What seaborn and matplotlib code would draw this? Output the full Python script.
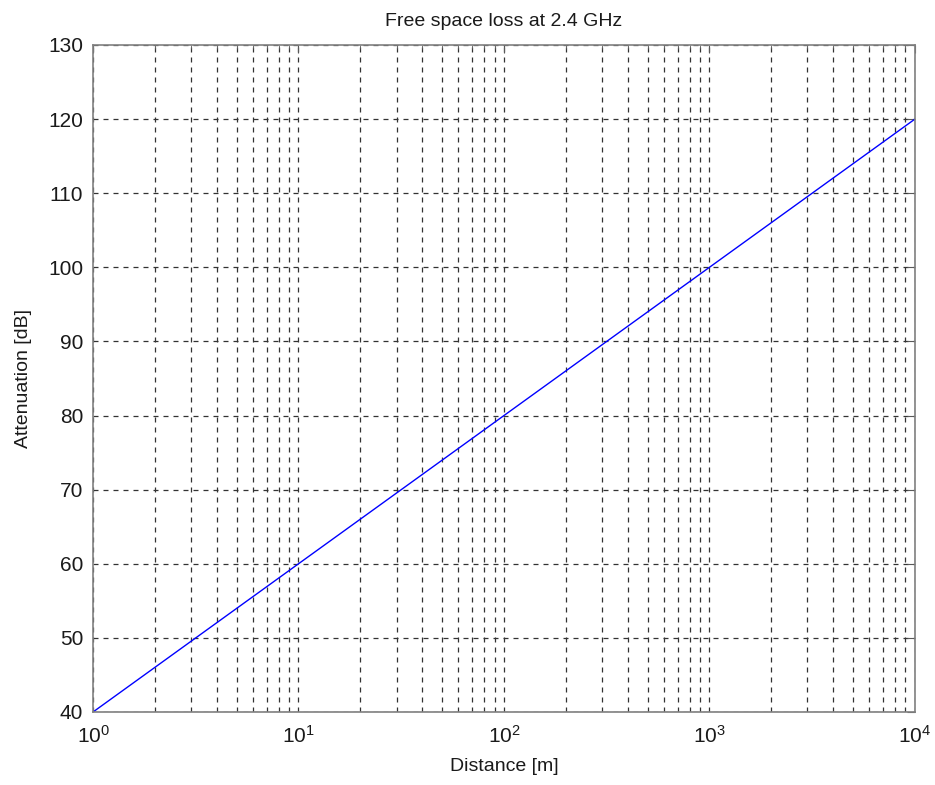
import numpy as np
import pandas as pd
import matplotlib
matplotlib.use("Agg")
import matplotlib.pyplot as plt
import seaborn as sns
from matplotlib.ticker import LogLocator, FixedLocator

sns.set_style("white")
plt.rcParams['font.family'] = ['Liberation Sans', 'DejaVu Sans']

# values at each decade
distance = [1, 10, 100, 1000, 10000]
attenuation = [40, 60, 80, 100, 120]
y_ticks = [40, 50, 60, 70, 80, 90, 100, 110, 120, 130]

df = pd.DataFrame({"Distance": distance, "Attenuation": attenuation})

fig = plt.figure(figsize=(9.35, 7.85), dpi=100)
ax = fig.add_axes([0.0995, 0.093, 0.879, 0.8497])

sns.lineplot(data=df, x="Distance", y="Attenuation", ax=ax,
             color="#0000ff", linewidth=1.0)

ax.set_xscale("log")
ax.set_xlim(1, 1e4)
ax.set_ylim(40, 130)
ax.yaxis.set_major_locator(FixedLocator(y_ticks))
ax.xaxis.set_major_locator(LogLocator(base=10, numticks=10))
ax.xaxis.set_minor_locator(LogLocator(base=10, subs=np.arange(2, 10), numticks=20))

ax.grid(True, which="major", axis="both", linestyle=(0, (4, 4)),
        color="0.2", linewidth=0.9)
ax.grid(True, which="minor", axis="x", linestyle=(0, (4, 4)),
        color="0.2", linewidth=0.9)

ax.tick_params(which="both", direction="in", labelsize=15, colors="0.35",
               labelcolor="#1a1a1a", top=True, right=True)
ax.tick_params(which="major", length=6)
ax.tick_params(which="minor", length=3)
ax.tick_params(axis="x", which="major", pad=9)
ax.tick_params(axis="y", which="major", pad=7)
for s in ax.spines.values():
    s.set_color("0.5")
    s.set_linewidth(1.2)

ax.set_title("Free space loss at 2.4 GHz", fontsize=14, color="#1a1a1a", pad=14)
ax.set_xlabel("Distance [m]", fontsize=14, color="#1a1a1a", labelpad=8)
ax.set_ylabel("Attenuation [dB]", fontsize=14, color="#1a1a1a", labelpad=12)

fig.savefig("out.png", dpi=100)
